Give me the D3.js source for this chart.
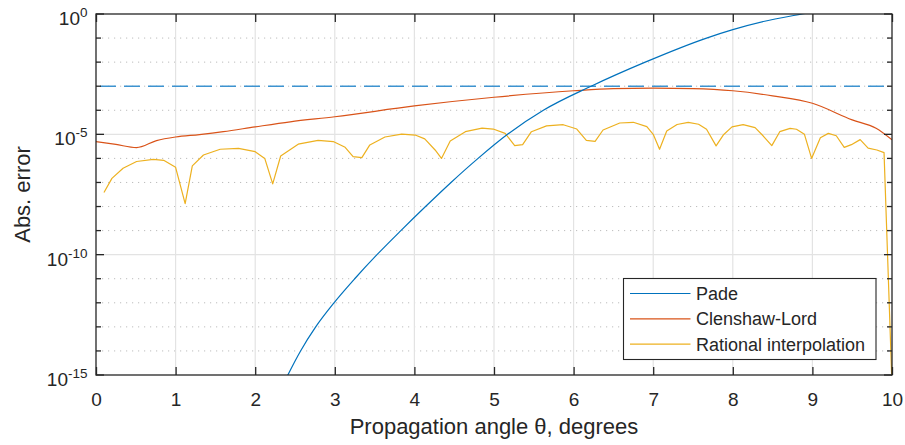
<!DOCTYPE html>
<html>
<head>
<meta charset="utf-8">
<script src="https://cdn.jsdelivr.net/npm/d3@7"></script>
<style>
  html, body { margin: 0; padding: 0; background: #fff; }
  svg { display: block; }
  text { font-family: "Liberation Sans", Arial, Helvetica, sans-serif; fill: #262626; }
</style>
</head>
<body>
<svg id="chart" width="905" height="445"></svg>
<script>
// ---- data (log10 of absolute error) ----
const xTicks = [0, 1, 2, 3, 4, 5, 6, 7, 8, 9, 10];
const yTickExps = [0, -5, -10, -15];
const yMinorExps = [-1, -2, -3, -4, -6, -7, -8, -9, -11, -12, -13, -14];
const seriesNames = ["Pade", "Clenshaw-Lord", "Rational interpolation"];
const thresholdExp = -3;

const padeTheta = [2.25, 2.41, 2.57, 2.76, 2.99, 3.25, 3.53, 3.83, 4.14, 4.46, 4.80, 5.17, 5.62, 6.22, 6.90, 7.67, 8.0, 8.4, 8.87, 9.5, 10.0];
const padeLog   = [-16.1, -15, -14, -13, -12, -11, -10, -9, -8, -7, -6, -5, -4, -3, -2, -1, -0.65, -0.30, 0.0, 0.40, 0.68];

const clTheta = [0, 0.25, 0.51, 0.76, 1.0, 1.3, 1.6, 2.0, 2.44, 3.0, 4.0, 5.0, 6.0, 6.5, 7.0, 7.5, 8.0, 8.5, 9.0, 9.5, 9.8, 10.0];
const clLog   = [-5.30, -5.42, -5.55, -5.26, -5.11, -5.01, -4.89, -4.69, -4.48, -4.27, -3.82, -3.46, -3.19, -3.10, -3.08, -3.10, -3.19, -3.40, -3.71, -4.40, -4.75, -5.23];

const riTheta = [0.10, 0.20, 0.34, 0.51, 0.72, 0.85, 1.00, 1.12, 1.21, 1.35, 1.56, 1.79, 2.00, 2.12, 2.22, 2.32, 2.54, 2.79, 2.98, 3.13, 3.23, 3.34, 3.44, 3.63, 3.84, 4.01, 4.13, 4.26, 4.34, 4.45, 4.64, 4.85, 4.99, 5.14, 5.26, 5.36, 5.47, 5.66, 5.87, 6.04, 6.16, 6.27, 6.37, 6.58, 6.75, 6.92, 7.00, 7.08, 7.17, 7.30, 7.44, 7.57, 7.67, 7.79, 7.88, 7.99, 8.13, 8.28, 8.38, 8.49, 8.59, 8.72, 8.80, 8.90, 8.99, 9.10, 9.20, 9.30, 9.40, 9.49, 9.60, 9.70, 9.81, 9.90, 10.0];
const riLog   = [-7.42, -6.83, -6.41, -6.13, -6.04, -6.08, -6.37, -7.88, -6.31, -5.86, -5.62, -5.58, -5.72, -6.00, -7.06, -5.90, -5.41, -5.25, -5.30, -5.54, -5.93, -5.97, -5.44, -5.11, -4.99, -5.03, -5.19, -5.65, -6.00, -5.28, -4.89, -4.74, -4.78, -4.96, -5.47, -5.43, -4.89, -4.65, -4.60, -4.78, -5.25, -5.29, -4.82, -4.53, -4.50, -4.68, -5.00, -5.62, -4.86, -4.59, -4.50, -4.58, -4.79, -5.48, -5.03, -4.69, -4.60, -4.72, -5.06, -5.47, -4.89, -4.75, -4.79, -5.00, -6.00, -5.14, -4.96, -5.06, -5.54, -5.43, -5.22, -5.57, -5.65, -5.76, -15.4];

const colors = ["#0072BD", "#D95319", "#EDB120"];

// ---- layout ----
const svg = d3.select("#chart");
const W = 905, H = 445;
const L = 96, R = 892, T = 14, B = 375;

svg.append("rect").attr("width", W).attr("height", H).attr("fill", "#fff");

const x = d3.scaleLinear().domain([0, 10]).range([L, R]);
const y = d3.scaleLog().domain([1e-15, 1]).range([B, T]);

const defs = svg.append("defs");
defs.append("clipPath").attr("id", "clip")
  .append("rect").attr("x", L).attr("y", T).attr("width", R - L).attr("height", B - T);

// grid
const grid = svg.append("g");
grid.selectAll(".mg").data(yMinorExps).enter().append("line")
  .attr("x1", L).attr("x2", R)
  .attr("y1", d => y(Math.pow(10, d))).attr("y2", d => y(Math.pow(10, d)))
  .attr("stroke", "#bdbdbd").attr("stroke-width", 1).attr("stroke-dasharray", "1.2,4.8");
grid.selectAll(".Mg").data(yTickExps.filter(e => e !== 0 && e !== -15)).enter().append("line")
  .attr("x1", L).attr("x2", R)
  .attr("y1", d => y(Math.pow(10, d))).attr("y2", d => y(Math.pow(10, d)))
  .attr("stroke", "#e3e3e3").attr("stroke-width", 1.2);
grid.selectAll(".vg").data(xTicks.filter(t => t > 0 && t < 10)).enter().append("line")
  .attr("x1", d => x(d)).attr("x2", d => x(d))
  .attr("y1", T).attr("y2", B)
  .attr("stroke", "#e3e3e3").attr("stroke-width", 1.2);

// series
const plot = svg.append("g").attr("clip-path", "url(#clip)");
function mk(th, lg) { return th.map((t, i) => ({ t: t, v: Math.pow(10, lg[i]) })); }
const smooth = d3.line().x(d => x(d.t)).y(d => y(d.v)).curve(d3.curveMonotoneX);
const straight = d3.line().x(d => x(d.t)).y(d => y(d.v));

plot.append("line")
  .attr("x1", x(0)).attr("x2", x(10))
  .attr("y1", y(Math.pow(10, thresholdExp))).attr("y2", y(Math.pow(10, thresholdExp)))
  .attr("stroke", "#3d93d0").attr("stroke-width", 1.6).attr("stroke-dasharray", "16,8")
  .attr("stroke-dashoffset", -4);

plot.append("path").datum(mk(clTheta, clLog)).attr("d", smooth)
  .attr("fill", "none").attr("stroke", colors[1]).attr("stroke-width", 1.2);
plot.append("path").datum(mk(riTheta, riLog)).attr("d", straight)
  .attr("fill", "none").attr("stroke", colors[2]).attr("stroke-width", 1.2).attr("stroke-linejoin", "round");
plot.append("path").datum(mk(padeTheta, padeLog)).attr("d", smooth)
  .attr("fill", "none").attr("stroke", colors[0]).attr("stroke-width", 1.2);

// axes box
const axisColor = "#262626";
const axG = svg.append("g");
axG.append("rect").attr("x", L).attr("y", T).attr("width", R - L).attr("height", B - T)
  .attr("fill", "none").attr("stroke", axisColor).attr("stroke-width", 1.3);

const xAxisB = d3.axisBottom(x).tickValues(xTicks).tickSize(-8).tickPadding(18).tickFormat(d3.format("d"));
const gxb = svg.append("g").attr("transform", `translate(0,${B})`).call(xAxisB);
gxb.select(".domain").remove();
gxb.selectAll(".tick line").attr("stroke", axisColor).attr("stroke-width", 1.3);
gxb.selectAll(".tick text").attr("font-size", 19).attr("fill", axisColor)
  .attr("font-family", '"Liberation Sans", Arial, Helvetica, sans-serif');

const xAxisT = d3.axisTop(x).tickValues(xTicks).tickSize(-8).tickFormat("");
const gxt = svg.append("g").attr("transform", `translate(0,${T})`).call(xAxisT);
gxt.select(".domain").remove();
gxt.selectAll(".tick line").attr("stroke", axisColor).attr("stroke-width", 1.3);

function yTicks(side) {
  const x0 = side === "left" ? L : R;
  const dir = side === "left" ? 1 : -1;
  const g = svg.append("g");
  g.selectAll(".M").data(yTickExps).enter().append("line")
    .attr("x1", x0).attr("x2", x0 + dir * 8)
    .attr("y1", d => y(Math.pow(10, d))).attr("y2", d => y(Math.pow(10, d)))
    .attr("stroke", axisColor).attr("stroke-width", 1.3);
  g.selectAll(".m").data(yMinorExps).enter().append("line")
    .attr("x1", x0).attr("x2", x0 + dir * 5)
    .attr("y1", d => y(Math.pow(10, d))).attr("y2", d => y(Math.pow(10, d)))
    .attr("stroke", axisColor).attr("stroke-width", 1.3);
}
yTicks("left");
yTicks("right");

const ylab = svg.append("g").selectAll("text").data(yTickExps).enter().append("text")
  .attr("x", L - 8.5).attr("y", d => y(Math.pow(10, d)) + 11)
  .attr("text-anchor", "end").attr("font-size", 19);
ylab.append("tspan").text("10");
ylab.append("tspan").attr("dy", -8).attr("font-size", 13.5).text(d => d === 0 ? "0" : "-" + Math.abs(d));

svg.append("text").attr("x", (L + R) / 2).attr("y", 434)
  .attr("text-anchor", "middle").attr("font-size", 22)
  .text("Propagation angle \u03B8, degrees");
svg.append("text").attr("transform", `translate(30,${(T + B) / 2}) rotate(-90)`)
  .attr("text-anchor", "middle").attr("font-size", 22)
  .text("Abs. error");

// legend
const lg = svg.append("g").attr("transform", "translate(623.5,278.5)");
lg.append("rect").attr("width", 252.5).attr("height", 81).attr("fill", "#fff")
  .attr("stroke", axisColor).attr("stroke-width", 1.1);
const rows = lg.selectAll(".row").data(seriesNames).enter().append("g")
  .attr("transform", (d, i) => `translate(0,${15 + i * 25.3})`);
rows.append("line").attr("x1", 6.5).attr("x2", 67).attr("y1", 0).attr("y2", 0)
  .attr("stroke", (d, i) => colors[i]).attr("stroke-width", 1.2);
rows.append("text").attr("x", 72.5).attr("y", 6.5).attr("font-size", 18).text(d => d);
</script>
</body>
</html>
